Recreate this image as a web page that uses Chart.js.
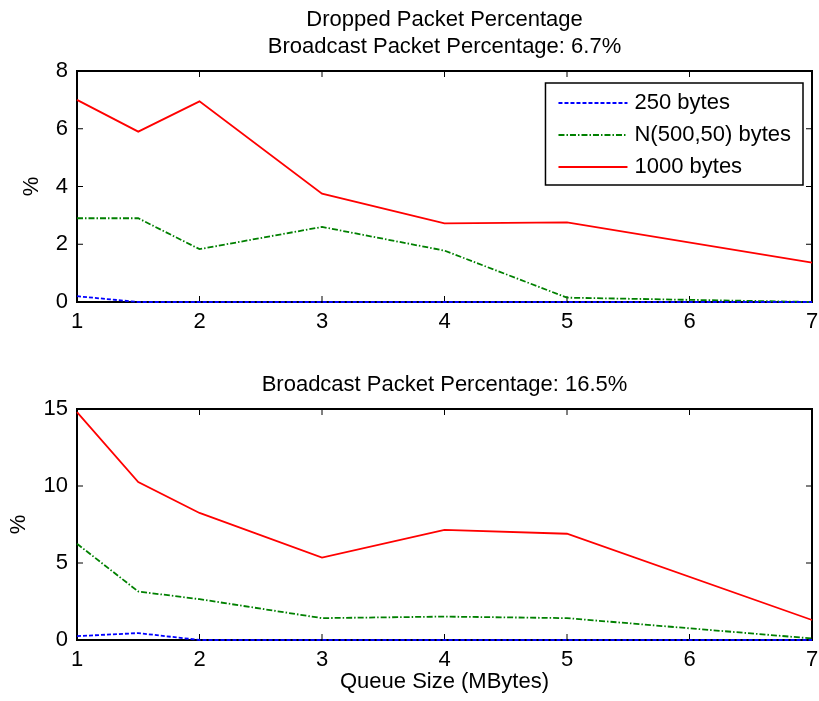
<!DOCTYPE html>
<html>
<head>
<meta charset="utf-8">
<script src="https://cdn.jsdelivr.net/npm/chart.js@4"></script>
<style>
  body { margin: 0; background: #fff; }
  #wrap { position: relative; width: 819px; height: 701px; }
  canvas { position: absolute; left: 0; }
  #top { top: 0; }
  #bottom { top: 345px; }
</style>
</head>
<body>
<div id="wrap">
  <canvas id="top" width="819" height="345"></canvas>
  <canvas id="bottom" width="819" height="356"></canvas>
</div>
<script>
// queue sizes (MBytes) where the runs were made
const queueSizes = [1, 1.5, 2, 3, 4, 5, 7];
const xTicks = [1, 2, 3, 4, 5, 6, 7];
const seriesNames = ['250 bytes', 'N(500,50) bytes', '1000 bytes'];

// broadcast 6.7%
const small67  = [0.2, 0, 0, 0, 0, 0, 0];
const normal67 = [2.9, 2.9, 1.83, 2.6, 1.78, 0.15, 0.0];
const large67  = [7.0, 5.9, 6.95, 3.75, 2.72, 2.76, 1.36];
const yTicksTop = [0, 2, 4, 6, 8];

// broadcast 16.5%
const small165  = [0.25, 0.45, 0, 0, 0, 0, 0];
const normal165 = [6.25, 3.15, 2.65, 1.42, 1.52, 1.42, 0.1];
const large165  = [14.8, 10.25, 8.25, 5.35, 7.15, 6.9, 1.3];
const yTicksBottom = [0, 5, 10, 15];

const FONT = "'Liberation Sans', Arial, sans-serif";
const FS = 22;
Chart.defaults.font.family = FONT;
Chart.defaults.font.size = FS;
Chart.defaults.color = '#000';

const lineStyles = [
  { borderColor: '#0000ff', borderDash: [4, 2] },
  { borderColor: '#008000', borderDash: [6, 2, 1.5, 2] },
  { borderColor: '#ff0000', borderDash: [] }
];

function makeDatasets(series) {
  return series.map((vals, i) => ({
    label: seriesNames[i],
    data: queueSizes.map((q, j) => ({ x: q, y: vals[j] })),
    borderColor: lineStyles[i].borderColor,
    borderDash: lineStyles[i].borderDash,
    borderWidth: 1.8,
    pointRadius: 0,
    fill: false,
    tension: 0,
    clip: false
  }));
}

// center the title over the axes box, like matlab does
const titleOverAxes = {
  id: 'titleOverAxes',
  afterLayout(chart) {
    if (chart.titleBlock) {
      chart.titleBlock.left = chart.chartArea.left;
      chart.titleBlock.right = chart.chartArea.right;
    }
  }
};

// box + inward ticks, matlab style
const matlabAxes = {
  id: 'matlabAxes',
  beforeDatasetsDraw(chart) {
    const { ctx, chartArea: a, scales: { x, y } } = chart;
    const t = 6;
    ctx.save();
    ctx.strokeStyle = '#000';
    ctx.lineWidth = 1;
    ctx.beginPath();
    x.ticks.forEach(tk => {
      const px = x.getPixelForValue(tk.value);
      ctx.moveTo(px, a.bottom); ctx.lineTo(px, a.bottom - t);
      ctx.moveTo(px, a.top); ctx.lineTo(px, a.top + t);
    });
    y.ticks.forEach(tk => {
      const py = y.getPixelForValue(tk.value);
      ctx.moveTo(a.left, py); ctx.lineTo(a.left + t, py);
      ctx.moveTo(a.right, py); ctx.lineTo(a.right - t, py);
    });
    ctx.stroke();
    ctx.lineWidth = 2;
    ctx.strokeRect(a.left, a.top, a.right - a.left, a.bottom - a.top);
    ctx.restore();
  }
};

const boxLegend = {
  id: 'boxLegend',
  afterDraw(chart) {
    const { ctx, chartArea: a } = chart;
    const ds = chart.data.datasets;
    ctx.save();
    ctx.font = FS + 'px ' + FONT;
    const textW = Math.max(...ds.map(d => ctx.measureText(d.label).width));
    const padL = 13, sample = 69, gap = 7, padR = 12, rowH = 32, padT = 20;
    const w = padL + sample + gap + textW + padR;
    const h = 102;
    const right = a.right - 9, left = right - w, top = a.top + 12;
    ctx.fillStyle = '#fff';
    ctx.fillRect(left, top, w, h);
    ctx.strokeStyle = '#000';
    ctx.lineWidth = 1.5;
    ctx.strokeRect(left, top, w, h);
    ds.forEach((d, i) => {
      const yy = top + padT + i * rowH;
      ctx.beginPath();
      ctx.setLineDash(d.borderDash || []);
      ctx.strokeStyle = d.borderColor;
      ctx.lineWidth = d.borderWidth;
      ctx.moveTo(left + padL, yy);
      ctx.lineTo(left + padL + sample, yy);
      ctx.stroke();
      ctx.setLineDash([]);
      ctx.fillStyle = '#000';
      ctx.textBaseline = 'middle';
      ctx.textAlign = 'left';
      ctx.fillText(d.label, left + padL + sample + gap, yy);
    });
    ctx.restore();
  }
};

function makeChart(canvas, series, yMax, yTicks, titleText, titlePad, xHeight, xTitle, yTitleOffset, extraPlugins) {
  return new Chart(canvas, {
    type: 'line',
    data: { datasets: makeDatasets(series) },
    options: {
      responsive: false,
      animation: false,
      devicePixelRatio: 1,
      layout: { padding: { left: 0, right: 7, top: 0, bottom: 0 } },
      plugins: {
        legend: { display: false },
        tooltip: { enabled: false },
        title: {
          display: true,
          text: titleText,
          color: '#000',
          font: { size: FS, weight: 'normal', lineHeight: 27 / FS },
          padding: titlePad
        }
      },
      scales: {
        x: {
          type: 'linear',
          min: 1, max: 7,
          afterBuildTicks: s => { s.ticks = xTicks.map(v => ({ value: v })); },
          afterFit: s => { s.height = xHeight; s.paddingLeft = 0; s.paddingRight = 0; },
          grid: { display: false, drawTicks: false },
          border: { display: false },
          ticks: { padding: 7, color: '#000', font: { size: FS } },
          title: xTitle ? { display: true, text: xTitle, color: '#000', font: { size: FS }, padding: { top: 0, bottom: 6 } } : { display: false }
        },
        y: {
          type: 'linear',
          min: 0, max: yMax,
          afterBuildTicks: s => { s.ticks = yTicks.map(v => ({ value: v })); },
          afterFit: s => { s.width = 77; },
          grid: { display: false, drawTicks: false },
          border: { display: false },
          ticks: { padding: 9, color: '#000', font: { size: FS } },
          title: { display: true, text: '%', color: '#000', font: { size: FS }, padding: { top: yTitleOffset, bottom: 0 } }
        }
      }
    },
    plugins: [titleOverAxes, matlabAxes].concat(extraPlugins)
  });
}

makeChart(document.getElementById('top'), [small67, normal67, large67], 8, yTicksTop,
  ['Dropped Packet Percentage', 'Broadcast Packet Percentage: 6.7%'],
  { top: 6, bottom: 11 }, 43, null, 19, [boxLegend]);

makeChart(document.getElementById('bottom'), [small165, normal165, large165], 15, yTicksBottom,
  'Broadcast Packet Percentage: 16.5%',
  { top: 26, bottom: 11 }, 61, 'Queue Size (MBytes)', 6, []);
</script>
</body>
</html>
